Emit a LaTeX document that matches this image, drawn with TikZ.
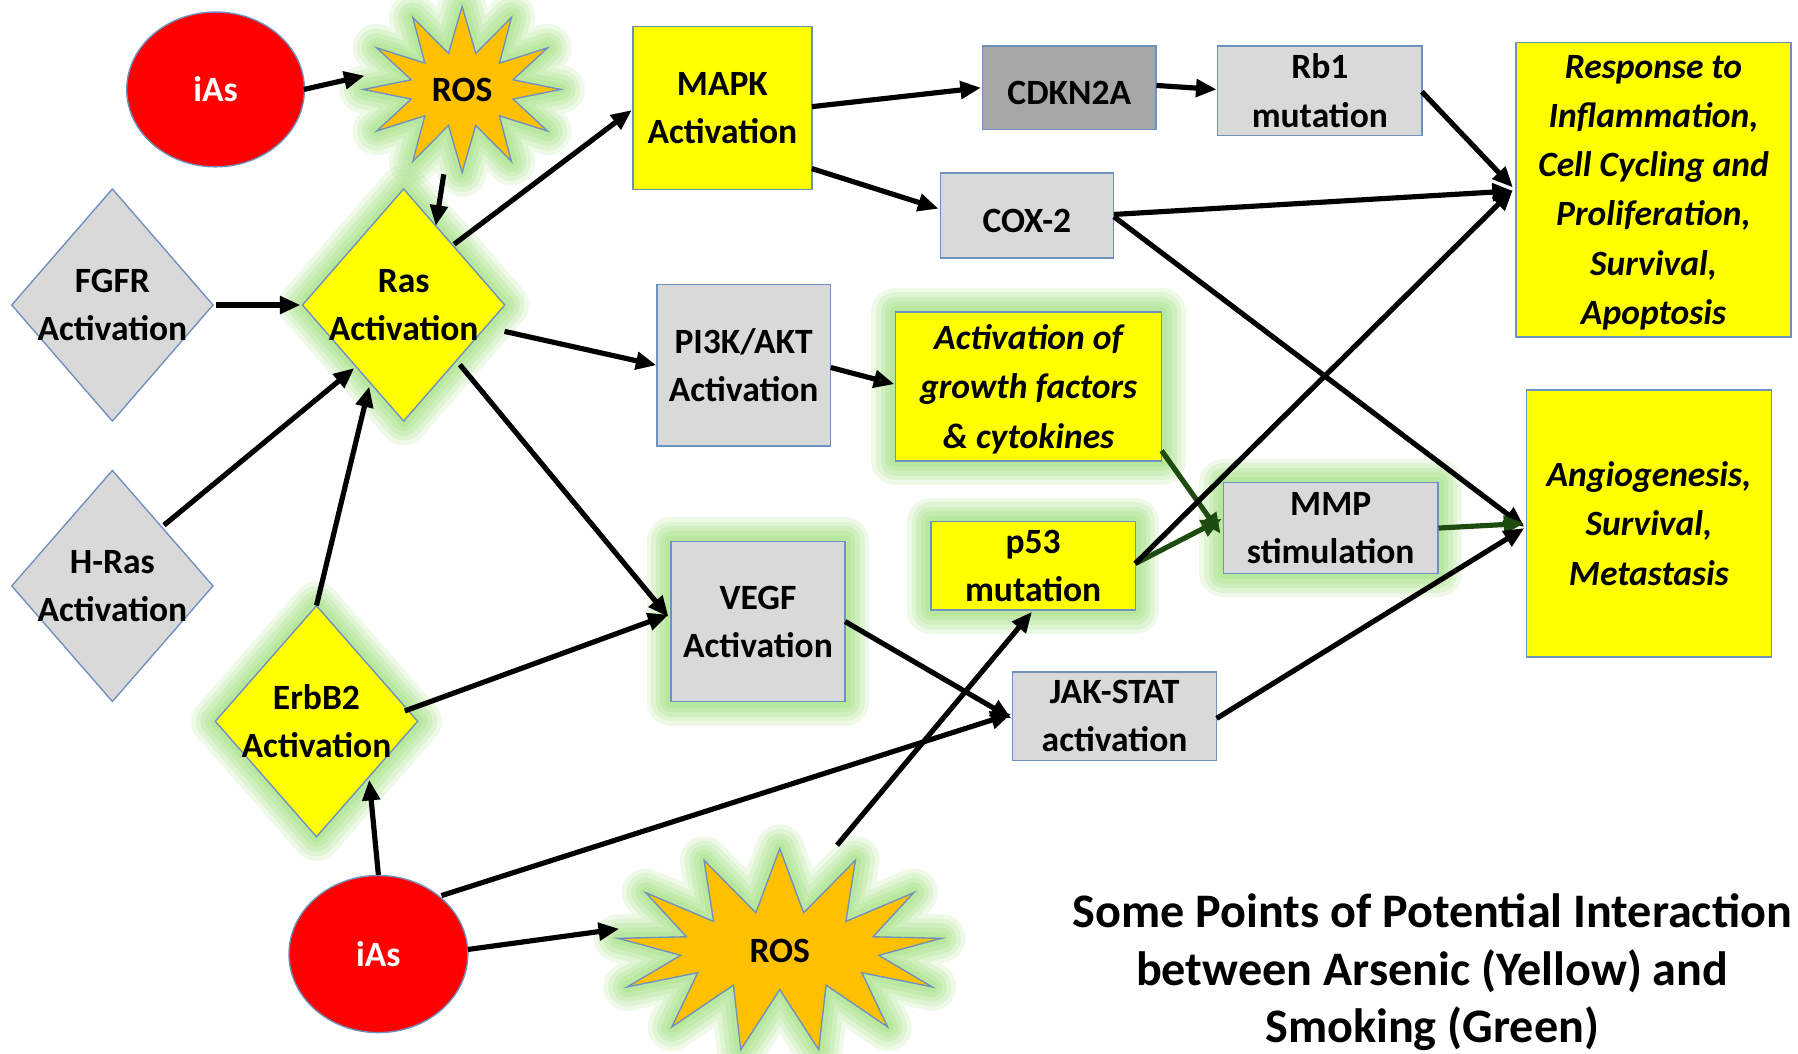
\documentclass[tikz,border=0pt]{standalone}
\usepackage{fontspec}
\setmainfont{Carlito}
\usetikzlibrary{shapes.geometric,shapes.symbols,arrows.meta,calc}
\definecolor{yel}{RGB}{255,255,0}
\definecolor{redc}{RGB}{255,0,0}
\definecolor{orangec}{RGB}{255,192,0}
\definecolor{lgrey}{RGB}{217,217,217}
\definecolor{dgrey}{RGB}{166,166,166}
\definecolor{bord}{RGB}{110,145,190}
\definecolor{glowc}{RGB}{160,222,125}
\definecolor{dkgreen}{RGB}{30,75,15}
\tikzset{
  base/.style={draw=bord, line width=1.2pt, align=center, inner sep=0pt, text depth=0pt,
    font=\fontsize{31}{42}\selectfont\bfseries},
  box/.style={base, rectangle, fill=lgrey, execute at begin node={\rule{0pt}{30pt}}},
  ybox/.style={box, fill=yel},
  ibox/.style={ybox, font=\fontsize{31}{43}\selectfont\bfseries\itshape},
  diam/.style={base, diamond, fill=lgrey},
  oval/.style={base, ellipse, fill=redc, text=white},
  burst/.style={base, starburst, fill=orangec, random starburst=0},
  glow/.style={
    preaction={draw=glowc, line width=42pt, opacity=0.18, line join=round},
    preaction={draw=glowc, line width=34pt, opacity=0.2, line join=round},
    preaction={draw=glowc, line width=26pt, opacity=0.22, line join=round},
    preaction={draw=glowc, line width=18pt, opacity=0.25, line join=round},
    preaction={draw=glowc, line width=10pt, opacity=0.3, line join=round}},
  dlab/.style={font=\fontsize{31}{42}\selectfont\bfseries, align=center},
  arr/.style={draw=black, line width=4.5pt, -{Triangle[length=18pt,width=15pt]}},
  garr/.style={arr, draw=dkgreen, -{Triangle[length=18pt,width=15pt,fill=dkgreen]}},
}
\begin{document}
\begin{tikzpicture}[x=1pt,y=-1pt]
\useasboundingbox (0,0) rectangle (1568,919);
% glowing nodes first
\node[burst, glow, starburst points=12, starburst point height=40pt,
  minimum width=172pt, minimum height=145pt] (ros1) at (403,78) {ROS};
\node[diam, fill=yel, glow, minimum width=177pt, minimum height=203pt,
  label={[dlab]center:Ras\\Activation}] (ras) at (352,266) {};
\node[diam, fill=yel, glow, minimum width=177pt, minimum height=202pt,
  label={[dlab]center:ErbB2\\Activation}] (erb) at (276,629) {};
\node[ibox, glow, minimum width=232pt, minimum height=130pt] (grow) at (897,337)
  {Activation of\\growth factors\\\& cytokines};
\node[ybox, glow, minimum width=178pt, minimum height=77pt] (p53) at (901,493.5)
  {p53\\mutation};
\node[box, glow, minimum width=187pt, minimum height=79pt] (mmp) at (1160.5,460.5)
  {MMP\\stimulation};
\node[box, glow, minimum width=152pt, minimum height=140pt] (vegf) at (661,542)
  {VEGF\\Activation};
\node[burst, glow, starburst points=13, starburst point height=55pt,
  minimum width=284pt, minimum height=178pt] (ros2) at (680,829) {ROS};
% other nodes
\node[oval, minimum width=155pt, minimum height=135pt] (ias1) at (188,78) {iAs};
\node[oval, minimum width=156pt, minimum height=137pt] (ias2) at (330,832) {iAs};
\node[diam, minimum width=176pt, minimum height=203pt,
  label={[dlab]center:FGFR\\Activation}] (fgfr) at (98,266) {};
\node[diam, minimum width=176pt, minimum height=202pt,
  label={[dlab]center:H-Ras\\Activation}] (hras) at (98,511) {};
\node[ybox, minimum width=156pt, minimum height=142pt] (mapk) at (630,94) {MAPK\\Activation};
\node[box, fill=dgrey, minimum width=151pt, minimum height=73pt] (cdkn) at (932.5,76.5) {CDKN2A};
\node[box, minimum width=178pt, minimum height=78pt] (rb1) at (1151,79) {Rb1\\mutation};
\node[ibox, minimum width=240pt, minimum height=257pt] (resp) at (1442,165.5)
  {Response to\\Inflammation,\\Cell Cycling and\\Proliferation,\\Survival,\\Apoptosis};
\node[box, minimum width=151pt, minimum height=74pt] (cox) at (895.5,188) {COX-2};
\node[box, minimum width=151pt, minimum height=141pt] (pi3k) at (648.5,318.5) {PI3K/AKT\\Activation};
\node[ibox, minimum width=214pt, minimum height=233pt] (angio) at (1438,456.5)
  {Angiogenesis,\\Survival,\\Metastasis};
\node[box, minimum width=178pt, minimum height=77pt] (jak) at (972,624.5) {JAK-STAT\\activation};
\node[font=\fontsize{42}{50}\selectfont\bfseries, align=center] (title) at (1249,848)
  {Some Points of Potential Interaction\\between Arsenic (Yellow) and\\Smoking (Green)};
% connectors
\draw[arr] ($(ias1)+(77,0)$) -- ($(ros1)+(-85,-12)$);
\draw[arr] ($(ros1)+(-16,74)$) -- ($(ras)+(28,-69)$);
\draw[arr] ($(fgfr)+(90,0)$) -- ($(ras)+(-90,0)$);
\draw[arr] ($(hras)+(45,-53)$) -- ($(ras)+(-43,55)$);
\draw[arr] ($(erb)+(0,-101)$) -- ($(ras)+(-30,71)$);
\draw[arr] ($(ras)+(44,-53)$) -- ($(mapk)+(-79,2)$);
\draw[arr] ($(ras)+(88,23)$) -- ($(pi3k)+(-76,0)$);
\draw[arr] ($(ras)+(49,52)$) -- ($(vegf)+(-78,-4)$);
\draw[arr] ($(mapk)+(78,-1)$) -- ($(cdkn)+(-77,0)$);
\draw[arr] ($(mapk)+(78,53)$) -- ($(cox)+(-77,-6)$);
\draw[arr] ($(cdkn)+(76,-2)$) -- ($(rb1)+(-90,-1)$);
\draw[arr] ($(rb1)+(89,1)$) -- ($(resp.west)+(-2,-2)$);
\draw[arr] ($(cox)+(76,-1)$) -- ($(resp.west)+(-2,1)$);
\draw[arr] ($(cox)+(76,1)$) -- ($(angio.west)+(-1,3)$);
\draw[arr, -{Triangle[length=18pt,width=15pt,fill=dkgreen]}] ($(pi3k)+(76,2)$) -- ($(grow)+(-117,-2)$);
\draw[garr] ($(grow)+(116,56)$) -- ($(mmp)+(-96,5)$);
\draw[garr] ($(p53)+(89,-2)$) -- ($(mmp)+(-95,-8)$);
\draw[arr] ($(p53)+(89,-2)$) -- ($(resp.west)+(-2,0)$);
\draw[garr] ($(mmp)+(94,0)$) -- ($(angio.west)+(-1,0)$);
\draw[arr] ($(jak)+(89,2)$) -- ($(angio.west)+(-1,4)$);
\draw[arr] ($(erb)+(77,-9)$) -- ($(vegf)+(-78,-6)$);
\draw[arr] ($(vegf)+(76,0)$) -- ($(jak)+(-90,2)$);
\draw[arr] ($(ias2)+(0,-69)$) -- ($(erb)+(46,51)$);
\draw[arr] ($(ias2)+(55,-51)$) -- ($(jak)+(-90,-2)$);
\draw[arr] ($(ias2)+(78,-4)$) -- ($(ros2)+(-140,-19)$);
\draw[arr] ($(ros2)+(50,-92)$) -- ($(p53)+(-1,40)$);
\end{tikzpicture}
\end{document}
